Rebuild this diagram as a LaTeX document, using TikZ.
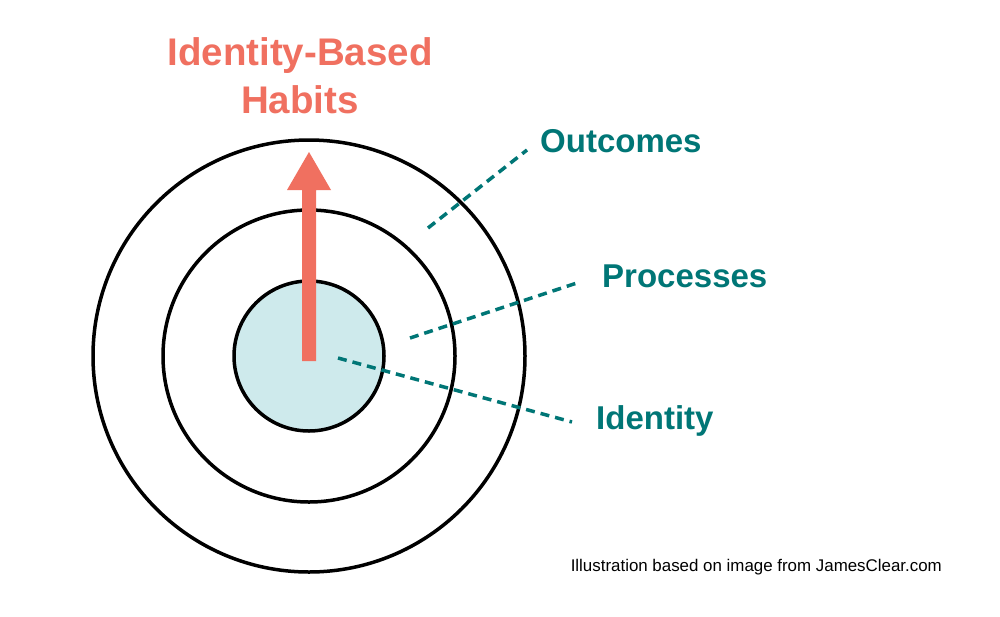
\documentclass[tikz,border=0pt]{standalone}
\usepackage{fontspec}
\setmainfont{Liberation Sans}
\definecolor{teal1}{RGB}{0,118,118}
\definecolor{salmon}{RGB}{240,112,96}
\definecolor{lcyan}{RGB}{206,234,236}
\begin{document}
\begin{tikzpicture}[x=1pt,y=-1pt,
  ring/.style={draw=black,line width=3.5pt},
  dashline/.style={draw=teal1,line width=3.5pt,dash pattern=on 9pt off 6pt},
  lab/.style={anchor=west,text=teal1,font=\bfseries\fontsize{33}{33}\selectfont,inner sep=0pt}]
\useasboundingbox (0,0) rectangle (1000,616);
\fill[white] (0,0) rectangle (1000,616);
\coordinate (c) at (309,356);
\draw[ring] (c) circle (216);
\draw[ring] (c) circle (146);
\draw[ring,fill=lcyan] (c) circle (75);
\fill[salmon] (302,361) -- (302,190) -- (287,190) -- (309,152) -- (331,190) -- (316,190) -- (316,361) -- cycle;
\coordinate (o1) at (428,228); \coordinate (o2) at (527,150);
\coordinate (p1) at (410,338); \coordinate (p2) at (580,282);
\coordinate (i1) at (338,358); \coordinate (i2) at (572,422);
\draw[dashline] (o1) -- (o2);
\draw[dashline] (p1) -- (p2);
\draw[dashline] (i1) -- (i2);
\node[lab] (lo) at (540,141) {Outcomes};
\node[lab] (lp) at (602,276) {Processes};
\node[lab] (li) at (596,421) {Identity};
\node[text=salmon,font=\bfseries\fontsize{38.5}{48}\selectfont,align=center] (t) at (300,76) {Identity-Based\\Habits};
\node[anchor=east,font=\fontsize{16.9}{17}\selectfont,inner sep=0pt] (f) at (942,567) {Illustration based on image from JamesClear.com};
\end{tikzpicture}
\end{document}
